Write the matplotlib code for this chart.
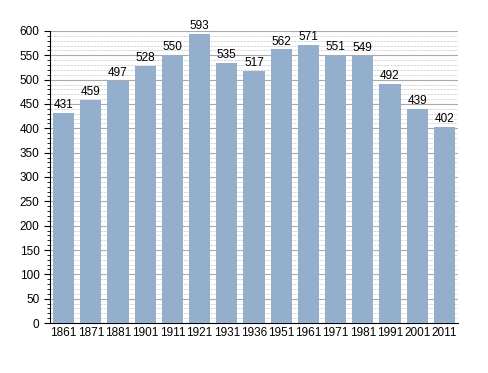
import numpy as np
import matplotlib.pyplot as plt
from matplotlib.ticker import MultipleLocator

plt.rcParams['font.family'] = ['Liberation Sans', 'DejaVu Sans']

years = ['1861', '1871', '1881', '1901', '1911', '1921', '1931', '1936',
         '1951', '1961', '1971', '1981', '1991', '2001', '2011']
population = [431, 459, 497, 528, 550, 593, 535, 517, 562, 571, 551, 549, 492, 439, 402]

fig = plt.figure(figsize=(4.88, 3.73), dpi=100)
ax = fig.add_axes([0.1025, 0.134, 0.836, 0.783])

x = np.arange(len(years))
ax.bar(x, population, width=0.78, color='#94afcb', zorder=3)

# valeurs au-dessus des barres
for xi, v in zip(x, population):
    ax.text(xi, v + 4, str(v), ha='center', va='bottom', fontsize=8.5, zorder=4)

ax.set_xlim(-0.5, len(years) - 0.5)
ax.set_ylim(0, 600)
ax.set_xticks(x)
ax.set_xticklabels(years, fontsize=8.5)
ax.yaxis.set_major_locator(MultipleLocator(50))
ax.yaxis.set_minor_locator(MultipleLocator(10))
ax.tick_params(axis='y', labelsize=8.5, length=4, width=0.8)
ax.tick_params(axis='y', which='minor', length=2, width=0.6)
ax.tick_params(axis='x', length=0, pad=3)

ax.grid(axis='y', which='major', color='#aaaaaa', linewidth=0.8, zorder=1)
ax.grid(axis='y', which='minor', color='#d4d4d4', linewidth=0.6, linestyle=(0, (3, 1)), zorder=1)

for s in ['top', 'right']:
    ax.spines[s].set_visible(False)

fig.savefig('out.png', dpi=100)
